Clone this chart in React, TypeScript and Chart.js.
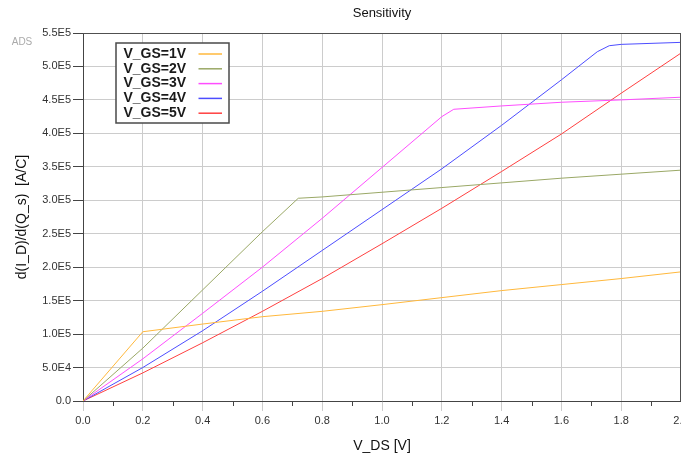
import React, { useEffect, useRef } from "react";
import { Chart, registerables } from "chart.js";

Chart.register(...registerables);

// Sweep of V_DS and the resulting sensitivity d(I_D)/d(Q_s) for each gate bias
const vgs1X = [0, 0.2, 0.4, 0.6, 0.8, 1.0, 1.2, 1.4, 1.6, 1.8, 2.0];
const vgs1Y = [0, 1.035e5, 1.15e5, 1.26e5, 1.34e5, 1.44e5, 1.545e5, 1.65e5, 1.74e5, 1.83e5, 1.93e5];

const vgs2X = [0, 0.2, 0.4, 0.6, 0.72, 0.8, 1.0, 1.2, 1.4, 1.6, 1.8, 2.0];
const vgs2Y = [0, 0.79e5, 1.66e5, 2.53e5, 3.03e5, 3.05e5, 3.12e5, 3.19e5, 3.26e5, 3.33e5, 3.39e5, 3.45e5];

const vgs3X = [0, 0.2, 0.4, 0.6, 0.8, 1.0, 1.2, 1.24, 1.4, 1.6, 1.8, 2.0];
const vgs3Y = [0, 0.63e5, 1.31e5, 2.0e5, 2.73e5, 3.49e5, 4.25e5, 4.36e5, 4.41e5, 4.465e5, 4.5e5, 4.54e5];

const vgs4X = [0, 0.2, 0.4, 0.6, 0.8, 1.0, 1.2, 1.4, 1.6, 1.72, 1.76, 1.8, 2.0];
const vgs4Y = [0, 0.5e5, 1.05e5, 1.64e5, 2.25e5, 2.86e5, 3.47e5, 4.12e5, 4.8e5, 5.22e5, 5.31e5, 5.33e5, 5.36e5];

const vgs5X = [0, 0.2, 0.4, 0.6, 0.8, 1.0, 1.2, 1.4, 1.6, 1.8, 2.0];
const vgs5Y = [0, 0.42e5, 0.87e5, 1.34e5, 1.83e5, 2.35e5, 2.88e5, 3.43e5, 3.99e5, 4.6e5, 5.2e5];

const seriesLabels = ["V_GS=1V", "V_GS=2V", "V_GS=3V", "V_GS=4V", "V_GS=5V"];
const seriesColors = ["#FFB83C", "#9AA866", "#FF4DFF", "#4D4DFF", "#FF4040"];

const xTickLabels = ["0.0", "0.2", "0.4", "0.6", "0.8", "1.0", "1.2", "1.4", "1.6", "1.8", "2.0"];
const xMinorTicks = [0.1, 0.3, 0.5, 0.7, 0.9, 1.1, 1.3, 1.5, 1.7, 1.9];
const yTickLabels = [
  "0.0", "5.0E4", "1.0E5", "1.5E5", "2.0E5", "2.5E5",
  "3.0E5", "3.5E5", "4.0E5", "4.5E5", "5.0E5", "5.5E5",
];

const FONT = "'Liberation Sans', Arial, Helvetica, sans-serif";

const toPoints = (xs: number[], ys: number[]) => xs.map((x, i) => ({ x, y: ys[i] }));

// Frame on top/right, minor x ticks, the boxed legend and the "ADS" mark
const decorations = {
  id: "decorations",
  afterDraw(chart: any) {
    const { ctx, chartArea } = chart;
    const xs = chart.scales.x;
    ctx.save();

    ctx.strokeStyle = "#505050";
    ctx.lineWidth = 1;
    ctx.beginPath();
    ctx.moveTo(chartArea.left, chartArea.top + 0.5);
    ctx.lineTo(chartArea.right, chartArea.top + 0.5);
    ctx.moveTo(chartArea.right - 0.5, chartArea.top);
    ctx.lineTo(chartArea.right - 0.5, chartArea.bottom);
    ctx.stroke();

    ctx.strokeStyle = "#444";
    ctx.beginPath();
    xMinorTicks.forEach((v) => {
      const px = Math.round(xs.getPixelForValue(v)) + 0.5;
      ctx.moveTo(px, chartArea.bottom);
      ctx.lineTo(px, chartArea.bottom + 5);
    });
    ctx.stroke();

    ctx.fillStyle = "#aaaaaa";
    ctx.font = `10px ${FONT}`;
    ctx.textAlign = "center";
    ctx.textBaseline = "middle";
    ctx.fillText("ADS", 22, 42);

    const bx = chartArea.left + 33;
    const by = chartArea.top + 10;
    const bw = 113;
    const bh = 80;
    ctx.fillStyle = "#ffffff";
    ctx.fillRect(bx, by, bw, bh);
    ctx.strokeStyle = "#4a4a4a";
    ctx.lineWidth = 1.5;
    ctx.strokeRect(bx, by, bw, bh);

    ctx.font = `bold 14px ${FONT}`;
    ctx.textAlign = "left";
    ctx.textBaseline = "middle";
    chart.data.datasets.forEach((ds: any, i: number) => {
      const y = by + 11 + i * 14.8;
      ctx.fillStyle = "#1a1a1a";
      ctx.fillText(ds.label, bx + 7.5, y);
      ctx.strokeStyle = ds.borderColor;
      ctx.lineWidth = 1.5;
      ctx.beginPath();
      ctx.moveTo(bx + 82.5, y);
      ctx.lineTo(bx + 106, y);
      ctx.stroke();
    });

    ctx.restore();
  },
};

export default function App() {
  const canvasRef = useRef<HTMLCanvasElement | null>(null);

  useEffect(() => {
    if (!canvasRef.current) return;
    Chart.defaults.font.family = FONT;
    const xsAll = [vgs1X, vgs2X, vgs3X, vgs4X, vgs5X];
    const ysAll = [vgs1Y, vgs2Y, vgs3Y, vgs4Y, vgs5Y];

    const chart = new Chart(canvasRef.current, {
      type: "line",
      data: {
        datasets: seriesLabels.map((label, i) => ({
          label,
          data: toPoints(xsAll[i], ysAll[i]),
          borderColor: seriesColors[i],
          backgroundColor: seriesColors[i],
          borderWidth: 1,
          pointRadius: 0,
          tension: 0,
          fill: false,
        })),
      },
      options: {
        responsive: false,
        animation: false,
        layout: { padding: 0 },
        plugins: {
          legend: { display: false },
          tooltip: { enabled: false },
          title: {
            display: true,
            text: "Sensitivity",
            fullSize: false,
            color: "#111",
            font: { size: 13, weight: "normal" },
            padding: { top: 5.2, bottom: 12.2 },
          },
        },
        scales: {
          x: {
            type: "linear",
            min: 0,
            max: 2,
            ticks: {
              stepSize: 0.2,
              autoSkip: false,
              maxRotation: 0,
              padding: 3,
              color: "#333",
              font: { size: 11 },
              callback: (_v: any, i: number) => xTickLabels[i],
            },
            grid: { color: "#cccccc", tickColor: "#cccccc", tickLength: 10, lineWidth: 1 },
            border: { color: "#444", width: 1 },
            title: {
              display: true,
              text: "V_DS [V]",
              color: "#111",
              font: { size: 14 },
              padding: { top: 0, bottom: 1.6 },
            },
            afterFit: (s: any) => {
              s.paddingLeft = 0;
              s.paddingRight = 0;
              s.height = 55;
            },
          },
          y: {
            type: "linear",
            min: 0,
            max: 5.5e5,
            ticks: {
              stepSize: 5e4,
              padding: 2,
              color: "#333",
              font: { size: 11 },
              callback: (_v: any, i: number) => yTickLabels[i],
            },
            grid: { color: "#cccccc", tickColor: "#444", tickLength: 10, lineWidth: 1 },
            border: { color: "#444", width: 1 },
            title: {
              display: true,
              text: "d(I_D)/d(Q_s)  [A/C]",
              color: "#111",
              font: { size: 14 },
              padding: { top: 13.6, bottom: 0 },
            },
            afterFit: (s: any) => {
              s.width = 83;
              s.paddingTop = 0;
              s.paddingBottom = 0;
            },
          },
        },
      },
      plugins: [decorations],
    });

    return () => chart.destroy();
  }, []);

  return (
    <div style={{ position: "absolute", left: 0, top: 0, width: 681, height: 456, background: "#fff" }}>
      <canvas ref={canvasRef} width={681} height={456} />
    </div>
  );
}
